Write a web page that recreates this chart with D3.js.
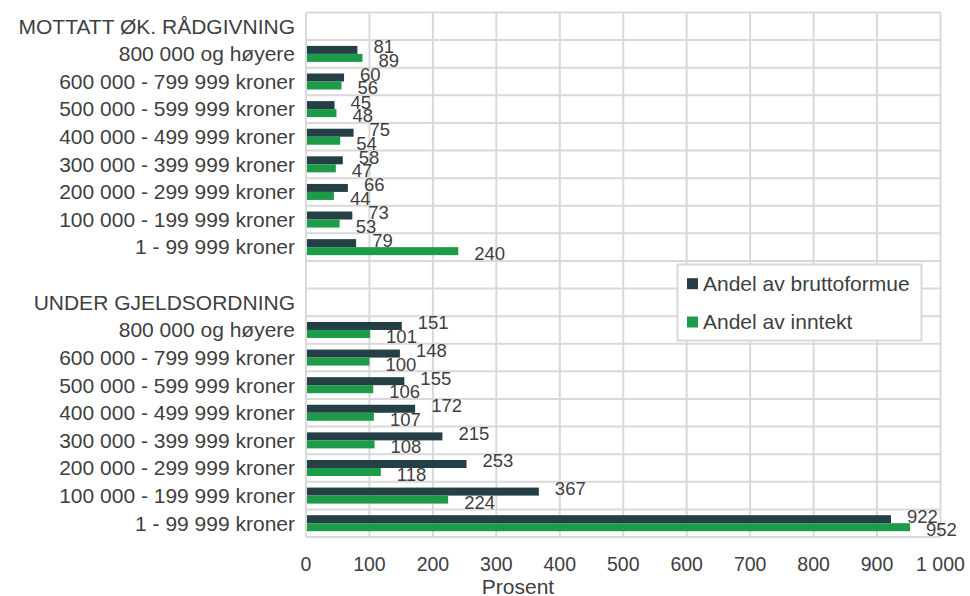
<!DOCTYPE html>
<html><head><meta charset="utf-8">
<script src="https://cdn.jsdelivr.net/npm/d3@7"></script>
<style>
body{margin:0;background:#fff}
text{font-family:"Liberation Sans",Arial,Helvetica,sans-serif;fill:#404040}
</style>
</head><body>
<svg id="c" width="970" height="596"></svg>
<script>
const categories = [
  "MOTTATT ØK. RÅDGIVNING",
  "800 000 og høyere",
  "600 000 - 799 999 kroner",
  "500 000 - 599 999 kroner",
  "400 000 - 499 999 kroner",
  "300 000 - 399 999 kroner",
  "200 000 - 299 999 kroner",
  "100 000 - 199 999 kroner",
  "1 - 99 999 kroner",
  "",
  "UNDER GJELDSORDNING",
  "800 000 og høyere",
  "600 000 - 799 999 kroner",
  "500 000 - 599 999 kroner",
  "400 000 - 499 999 kroner",
  "300 000 - 399 999 kroner",
  "200 000 - 299 999 kroner",
  "100 000 - 199 999 kroner",
  "1 - 99 999 kroner"
];
const bruttoformue = [null,81,60,45,75,58,66,73,79,null,null,151,148,155,172,215,253,367,922];
const inntekt      = [null,89,56,48,54,47,44,53,240,null,null,101,100,106,107,108,118,224,952];
const seriesNames = ["Andel av bruttoformue","Andel av inntekt"];
const xTicks = [0,100,200,300,400,500,600,700,800,900,1000];
const xTitle = "Prosent";

(function(){
const colors = ["#253f47","#1c9b49"];
const grid = "#d9d9d9";
const svg = d3.select("#c");
const pL = 306, pR = 940.5, pT = 12.5, pB = 537;

const x = d3.scaleLinear().domain([0,1000]).range([pL,pR]);
const idx = categories.map((d,i)=>i);
const y = d3.scaleBand().domain(idx).range([pT,pB]).paddingInner(0.42).paddingOuter(0.21);
const yRow = d3.scaleBand().domain(idx).range([pT,pB]).padding(0);
const ySub = d3.scaleBand().domain([0,1]).range([0,y.bandwidth()]);

const nf = d3.formatLocale({decimal:",",thousands:" ",grouping:[3],currency:["","kr"]}).format(",");

// gridlines
const g = svg.append("g");
g.selectAll("line.v").data(xTicks).join("line")
  .attr("x1",d=>x(d)).attr("x2",d=>x(d)).attr("y1",pT).attr("y2",pB)
  .attr("stroke",grid).attr("stroke-width",2);
const bounds = idx.map(i=>yRow(i)).concat([pB]);
g.selectAll("line.h").data(bounds).join("line")
  .attr("x1",pL).attr("x2",pR).attr("y1",d=>d).attr("y2",d=>d)
  .attr("stroke",grid).attr("stroke-width",2);

// bars
const series = [bruttoformue, inntekt];
series.forEach((vals,s)=>{
  const rows = vals.map((v,i)=>({v,i})).filter(d=>d.v!=null);
  svg.append("g").selectAll("rect").data(rows).join("rect")
    .attr("x",x(0)+1)
    .attr("y",d=>y(d.i)+ySub(s))
    .attr("width",d=>x(d.v)-x(0)-1)
    .attr("height",ySub.bandwidth())
    .attr("fill",colors[s]);
});
// labels
series.forEach((vals,s)=>{
  const rows = vals.map((v,i)=>({v,i})).filter(d=>d.v!=null);
  svg.append("g").selectAll("text").data(rows).join("text")
    .attr("x",d=>x(d.v)+16)
    .attr("y",d=>y(d.i)+ySub(s)+ySub.bandwidth()/2 + (s===0?-3:2.5))
    .attr("dy","0.35em")
    .style("font-size","18.5px")
    .text(d=>nf(d.v));
});

// category labels
svg.append("g").selectAll("text").data(idx).join("text")
  .attr("x",295).attr("y",i=>yRow(i)+yRow.bandwidth()/2)
  .attr("dy","0.35em").attr("text-anchor","end")
  .style("font-size","21px")
  .text(i=>categories[i]);

// x tick labels
svg.append("g").selectAll("text").data(xTicks).join("text")
  .attr("x",d=>x(d)).attr("y",564).attr("dy","0.35em").attr("text-anchor","middle")
  .style("font-size","19.5px")
  .text(d=>nf(d));
svg.append("text").attr("x",518).attr("y",594).attr("text-anchor","middle")
  .style("font-size","21px").text(xTitle);

// legend
const lg = svg.append("g");
lg.append("rect").attr("x",677.5).attr("y",264.5).attr("width",244).attr("height",76)
  .attr("fill","#fff").attr("stroke",grid).attr("stroke-width",2);
seriesNames.forEach((n,s)=>{
  const cy = s===0 ? 283.7 : 322;
  lg.append("rect").attr("x",687).attr("y",cy-5.5).attr("width",11).attr("height",11).attr("fill",colors[s]);
  lg.append("text").attr("x",703).attr("y",cy).attr("dy","0.35em").style("font-size","21px").text(n);
});
})();
</script>
</body></html>
